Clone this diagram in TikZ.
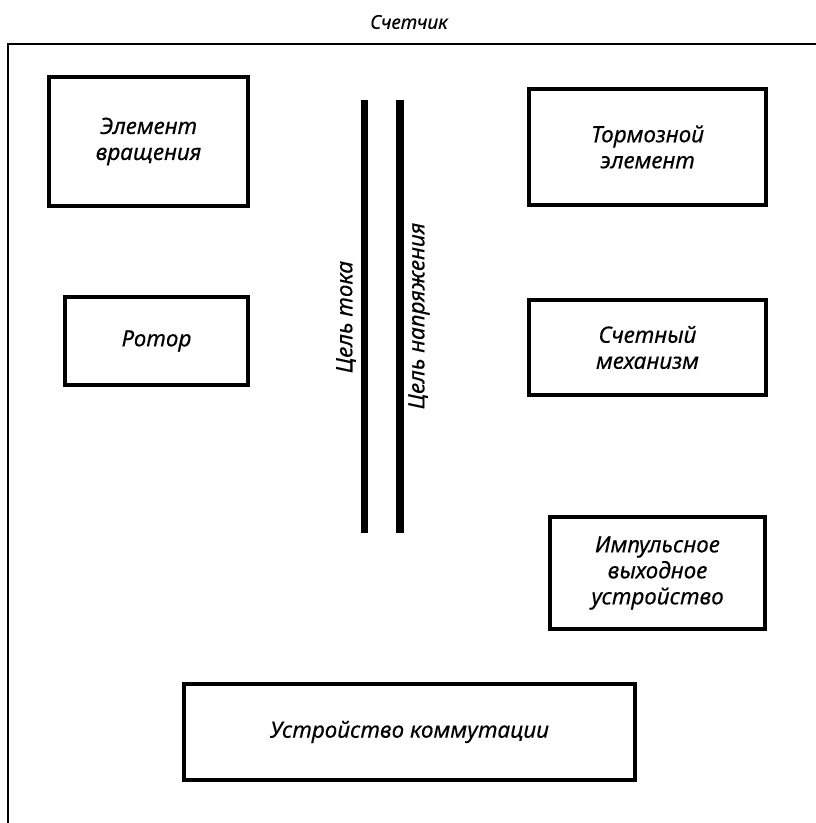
\documentclass[tikz,border=0pt]{standalone}
\usepackage{fontspec}
\setmainfont{Noto Sans}
\newcommand{\heavier}{\addfontfeatures{FakeBold=0.3}}
\begin{document}
\begin{tikzpicture}[x=1pt,y=-1pt,
  box/.style={draw=black,line width=4pt,align=center,inner sep=0pt,
    font=\fontsize{22.5}{26}\selectfont\itshape\heavier},
  bar/.style={line width=7.5pt},
  lbl/.style={font=\fontsize{22.5}{26}\selectfont\itshape\heavier,inner sep=0pt,rotate=90}]
\useasboundingbox (0,0) rectangle (816,823);
\fill[white] (0,0) rectangle (816,823);
% frame
\coordinate (fbl) at (8,823);
\coordinate (ftl) at (8,44);
\coordinate (ftr) at (816,44);
\draw[line width=2pt] (fbl) -- (ftl) -- (ftr);
\node[font=\fontsize{19}{22}\selectfont\itshape\heavier] (title) at (409,22) {Счетчик};
% boxes
\node[box,minimum width=199pt,minimum height=129pt] (rot) at (148.5,141.5) {Элемент\\вращения};
\node[box,minimum width=183pt,minimum height=88pt] (rotor) at (156.5,341) {Ротор};
\node[box,minimum width=237pt,minimum height=116pt] (brake) at (647.5,147) {Тормозной\\элемент};
\node[box,minimum width=237pt,minimum height=95pt] (count) at (647.5,347.5) {Счетный\\механизм};
\node[box,minimum width=215pt,minimum height=112pt] (pulse) at (657.5,573) {Импульсное\\выходное\\устройство};
\node[box,minimum width=451pt,minimum height=96pt] (comm) at (409.5,732) {Устройство коммутации};
% bars
\coordinate (b1t) at (364.5,100);
\coordinate (b1b) at (364.5,533);
\coordinate (b2t) at (400,100);
\coordinate (b2b) at (400,533);
\draw[bar] (b1t) -- (b1b);
\draw[bar] (b2t) -- (b2b);
\node[lbl] (cur) at (346,317) {Цель тока};
\node[lbl] (volt) at (419,316) {Цель напряжения};
\end{tikzpicture}
\end{document}
